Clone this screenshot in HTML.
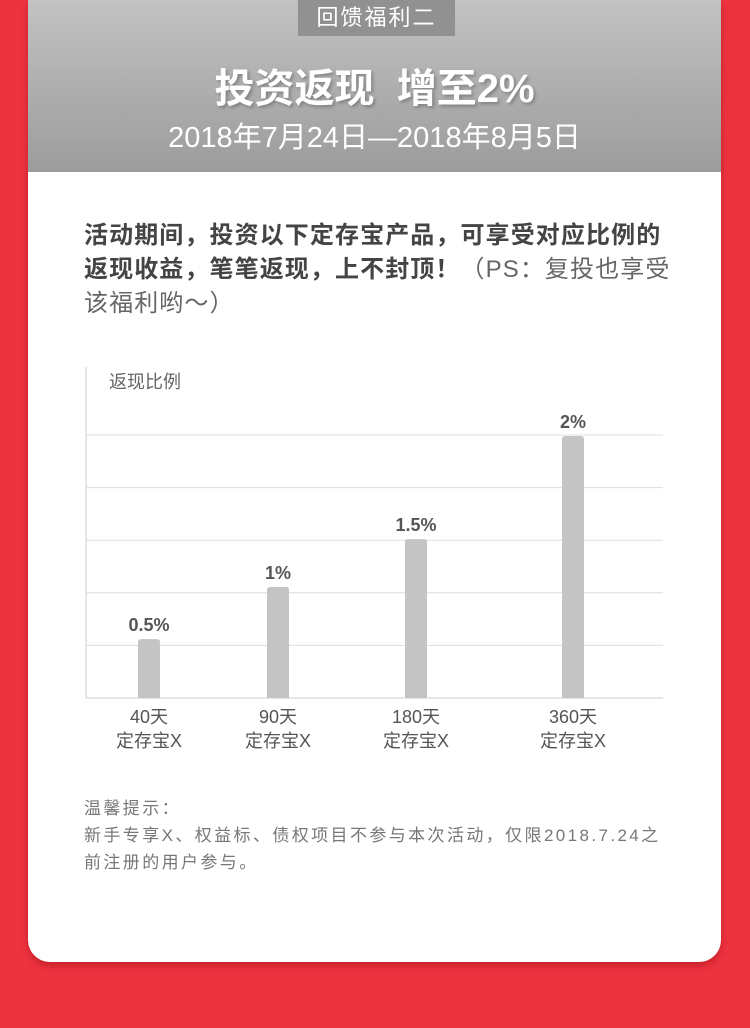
<!DOCTYPE html>
<html><head><meta charset="utf-8">
<style>
body{margin:0;width:750px;height:1028px;background:#ee3340;position:relative;overflow:hidden;font-family:"Liberation Sans","Noto Sans CJK SC",sans-serif;}
#card{position:absolute;left:28px;top:0;width:693px;height:962px;background:#fff;border-radius:0 0 22px 22px;overflow:hidden;box-shadow:0 4px 8px rgba(120,0,0,.35);}
#head{position:absolute;left:0;top:0;width:693px;height:172px;background:linear-gradient(#c2c2c2,#9c9c9c);}
#tab{position:absolute;left:270px;top:0;width:157px;height:36px;background:#919191;color:#fff;font-size:22px;text-align:center;line-height:36px;letter-spacing:2px;}
#title{position:absolute;left:0;width:693px;top:56px;text-align:center;color:#fff;font-size:40px;font-weight:bold;text-shadow:2px 2px 3px rgba(0,0,0,.25);}
#date{position:absolute;left:0;width:693px;top:114px;text-align:center;color:#fff;font-size:29px;}
#desc{position:absolute;left:56px;top:219px;width:640px;font-size:24px;line-height:34px;color:#666;letter-spacing:1.1px;white-space:nowrap;}
#desc b{color:#444;}
#tips{position:absolute;left:56px;top:795px;width:640px;font-size:17px;line-height:27px;color:#777;letter-spacing:2.4px;white-space:nowrap;}
</style></head><body>
<div id="card">
 <div id="head">
  <div id="tab">回馈福利二</div>
  <div id="title">投资返现&nbsp;&nbsp;增至2%</div>
  <div id="date">2018年7月24日—2018年8月5日</div>
 </div>
 <div id="desc"><b>活动期间，投资以下定存宝产品，可享受对应比例的<br>返现收益，笔笔返现，上不封顶！</b>（PS：复投也享受<br>该福利哟～）</div>
 <svg id="chart" width="693" height="400" style="position:absolute;left:0;top:360px"></svg>
 <div id="tips">温馨提示：<br>新手专享X、权益标、债权项目不参与本次活动，仅限2018.7.24之<br>前注册的用户参与。</div>
</div>
<script>
const categories=["40天","90天","180天","360天"];
const values=[0.56,1.055,1.51,2.49];
const valueLabels=["0.5%","1%","1.5%","2%"];
const gridTicks=[0.5,1,1.5,2,2.5];
const svg=document.getElementById('chart');
const NS="http://www.w3.org/2000/svg";
const base=338, pxPerUnit=105.2, x0=58;
const centers=[121,250,388,545];
const y=v=>base-v*pxPerUnit;
function mk(t,a){const e=document.createElementNS(NS,t);for(const k in a)e.setAttribute(k,a[k]);svg.appendChild(e);return e;}
let ax=mk('line',{x1:x0,y1:7,x2:x0,y2:base,stroke:'#ccc','stroke-width':1});


gridTicks.forEach(g=>{const l=mk('line',{x1:x0,y1:y(g),x2:635,y2:y(g),stroke:'#ddd','stroke-width':1});

});
let bl=mk('line',{x1:x0,y1:base,x2:635,y2:base,stroke:'#ccc','stroke-width':1});


let yt=mk('text',{x:81,y:28,'font-size':18,fill:'#666'});yt.textContent='返现比例';


categories.forEach((c,i)=>{
 const cx=centers[i],top=y(values[i]);
 const r=mk('path',{d:`M${cx-11},${base}V${top+3}Q${cx-11},${top} ${cx-8},${top}H${cx+8}Q${cx+11},${top} ${cx+11},${top+3}V${base}Z`,fill:'#c4c4c4'});
 
 
 const t=mk('text',{x:cx,y:top-8,'text-anchor':'middle','font-size':18,'font-weight':'bold',fill:'#555'});t.textContent=valueLabels[i];
 
 
 const a=mk('text',{x:cx,y:base+25,'text-anchor':'middle','font-size':18,fill:'#555'});a.textContent=c;
 
 
 const b=mk('text',{x:cx,y:base+49,'text-anchor':'middle','font-size':18,fill:'#555'});b.textContent='定存宝X';
 
 
});
</script>
</body></html>
